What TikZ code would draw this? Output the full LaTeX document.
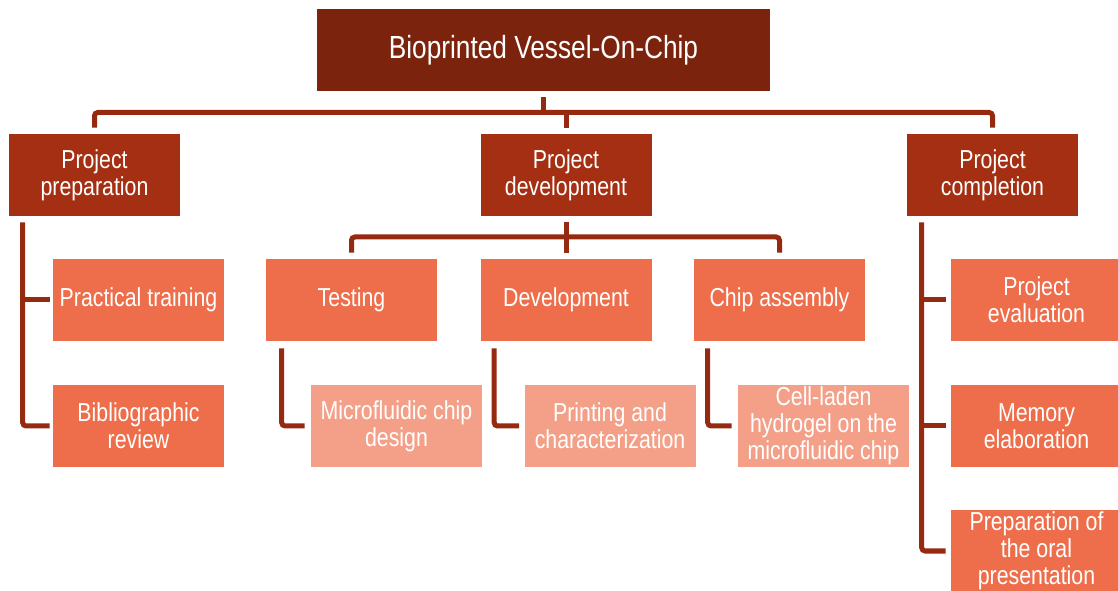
\documentclass[tikz,border=0pt]{standalone}
\usepackage{fontspec}
\setmainfont[FakeStretch=0.82]{Liberation Sans}
\usetikzlibrary{calc}
\definecolor{c0}{HTML}{7B230D}
\definecolor{c1}{HTML}{A52F12}
\definecolor{c2}{HTML}{EE6E4B}
\definecolor{c3}{HTML}{F4A088}
\definecolor{cl}{HTML}{952A10}
\tikzset{
  box/.style={rectangle, inner sep=0pt, minimum width=128.25pt, minimum height=61.5pt,
    text=white, align=center, font=\fontsize{19.5}{20.25}\selectfont},
  lvl0/.style={box, fill=c0, minimum width=339.75pt, font=\fontsize{24}{28}\selectfont},
  lvl1/.style={box, fill=c1},
  lvl2/.style={box, fill=c2},
  lvl3/.style={box, fill=c3},
  link/.style={draw=cl, line width=3.75pt, rounded corners=2.5pt}
}
\begin{document}
\begin{tikzpicture}[x=0.75pt, y=-0.75pt]
  \useasboundingbox (0,0) rectangle (1118,591);
  \clip (0,0) rectangle (1118,591);

  % boxes
  \node[lvl0] (root) at (543.5,50) {Bioprinted Vessel-On-Chip};

  \node[lvl1] (prep)  at (94.5,175)  {Project\\preparation};
  \node[lvl1] (dev)   at (566,175)   {Project\\development};
  \node[lvl1] (compl) at (992.5,175) {Project\\completion};

  \node[lvl2] (prac)   at (138.5,300) {Practical training};
  \node[lvl2] (bib)    at (138.5,426) {Bibliographic\\review};
  \node[lvl2] (test)   at (351.5,300) {Testing};
  \node[lvl2] (devel)  at (566,300)   {Development};
  \node[lvl2] (chip)   at (779.5,300) {Chip assembly};
  \node[lvl2] (eval)   at (1036.5,300) {Project\\evaluation};
  \node[lvl2] (memo)   at (1036.5,426) {Memory\\elaboration};
  \node[lvl2] (oral)   at (1036.5,551) {Preparation of\\the oral\\presentation};

  \node[lvl3] (micro) at (396.5,426) {Microfluidic chip\\design};
  \node[lvl3] (print) at (610,426)   {Printing and\\characterization};
  \node[lvl3] (cell)  at (823.5,426) {Cell-laden\\hydrogel on the\\microfluidic chip};

  % top level connectors
  \coordinate (bar) at (543.5,112.5);
  \draw[link] ($(root.south)+(0,6)$) -- (bar);
  \draw[link] ($(prep.north)+(0,-6)$) |- (bar) -| ($(compl.north)+(0,-6)$);
  \draw[link] (dev.north |- bar) -- ($(dev.north)+(0,-6)$);

  % project preparation branch
  \coordinate (pv) at ($(prep.south west)+(14,6)$);
  \draw[link] (pv) |- ($(bib.west)+(-3,0)$);
  \draw[link] (pv |- prac.west) -- ($(prac.west)+(-3,0)$);

  % project development branch
  \coordinate (dbar) at (566,237);
  \draw[link] ($(dev.south)+(0,6)$) -- ($(devel.north)+(0,-6)$);
  \draw[link] ($(test.north)+(0,-6)$) |- (dbar) -| ($(chip.north)+(0,-6)$);

  % third level connectors
  \draw[link] ($(test.south west)+(16,7)$) |- ($(micro.west)+(-6,0)$);
  \draw[link] ($(devel.south west)+(14,7)$) |- ($(print.west)+(-5,0)$);
  \draw[link] ($(chip.south west)+(14,7)$) |- ($(cell.west)+(-6,0)$);

  % project completion branch
  \coordinate (cv) at ($(compl.south west)+(15,6)$);
  \draw[link] (cv) |- ($(oral.west)+(-5,0)$);
  \draw[link] (cv |- eval.west) -- ($(eval.west)+(-5,0)$);
  \draw[link] (cv |- memo.west) -- ($(memo.west)+(-5,0)$);
\end{tikzpicture}
\end{document}
